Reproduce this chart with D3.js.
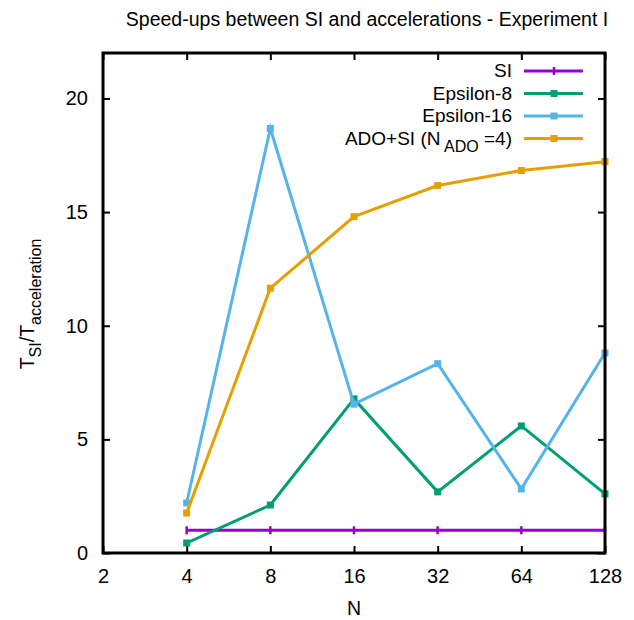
<!DOCTYPE html>
<html>
<head>
<meta charset="utf-8">
<script src="https://cdn.jsdelivr.net/npm/d3@7"></script>
<style>
  body { margin: 0; background: #fff; }
  text { font-family: "Liberation Sans", Arial, sans-serif; fill: #000; }
</style>
</head>
<body>
<svg id="chart" width="634" height="620"></svg>
<script>
// Data
const nValues = [4, 8, 16, 32, 64, 128];
const siValues = [1, 1, 1, 1, 1, 1];
const eps8Values = [0.44, 2.11, 6.78, 2.69, 5.59, 2.6];
const eps16Values = [2.2, 18.68, 6.55, 8.33, 2.82, 8.8];
const adoValues = [1.76, 11.65, 14.8, 16.17, 16.83, 17.22];
const xTicks = [2, 4, 8, 16, 32, 64, 128];
const yTicks = [0, 5, 10, 15, 20];

const seriesList = [
    { name: "SI", values: siValues, color: "#9400d3", marker: "plus" },
    { name: "Epsilon-8", values: eps8Values, color: "#009e73", marker: "square" },
    { name: "Epsilon-16", values: eps16Values, color: "#56b4e9", marker: "square" },
    { name: "ADO+SI", values: adoValues, color: "#e69f00", marker: "square" }
];

const svg = d3.select("#chart");
const margin = { left: 103, right: 29, top: 53, bottom: 67 };
const width = 634 - margin.left - margin.right;
const height = 620 - margin.top - margin.bottom;

const x = d3.scaleLog().base(2).domain([2, 128]).range([margin.left, margin.left + width]);
const y = d3.scaleLinear().domain([0, 22]).range([margin.top + height, margin.top]);

// Title
svg.append("text")
    .attr("x", 367).attr("y", 26)
    .attr("text-anchor", "middle")
    .style("font-size", "19.5px")
    .text("Speed-ups between SI and accelerations - Experiment I");

// Axes with inward ticks, mirrored
const fmt = d => d3.format("d")(d);
svg.append("g").attr("transform", `translate(0,${y(0)})`)
    .call(d3.axisBottom(x).tickValues(xTicks).tickFormat(fmt).tickSizeInner(-7).tickSizeOuter(0).tickPadding(16));
svg.append("g").attr("transform", `translate(0,${y(22)})`)
    .call(d3.axisTop(x).tickValues(xTicks).tickFormat("").tickSizeInner(-7).tickSizeOuter(0));
svg.append("g").attr("transform", `translate(${x(2)},0)`)
    .call(d3.axisLeft(y).tickValues(yTicks).tickSizeInner(-7).tickSizeOuter(0).tickPadding(15));
svg.append("g").attr("transform", `translate(${x(128)},0)`)
    .call(d3.axisRight(y).tickValues(yTicks).tickFormat("").tickSizeInner(-7).tickSizeOuter(0));

svg.selectAll(".domain").remove();
svg.selectAll(".tick line").attr("stroke", "#000").attr("stroke-width", 2);
svg.selectAll(".tick text").style("font-size", "20px").style("font-family", "Liberation Sans, Arial, sans-serif").attr("fill", "#000");

// Series
const line = d3.line().x((d, i) => x(nValues[i])).y(d => y(d));
const plot = svg.append("g");

function drawMarker(g, cx, cy, s) {
    if (s.marker === "plus") {
        g.append("line").attr("x1", cx).attr("x2", cx).attr("y1", cy - 4).attr("y2", cy + 4)
            .attr("stroke", s.color).attr("stroke-width", 2.5);
    } else {
        g.append("rect").attr("x", cx - 3.5).attr("y", cy - 3.5).attr("width", 7).attr("height", 7)
            .attr("fill", s.color);
    }
}

seriesList.forEach(s => {
    plot.append("path").datum(s.values)
        .attr("d", line)
        .attr("fill", "none")
        .attr("stroke", s.color)
        .attr("stroke-width", 3)
        .attr("stroke-linejoin", "miter");
    s.values.forEach((v, i) => drawMarker(plot, x(nValues[i]), y(v), s));
});

// Frame
svg.append("rect")
    .attr("x", x(2)).attr("y", y(22))
    .attr("width", x(128) - x(2)).attr("height", y(0) - y(22))
    .attr("fill", "none").attr("stroke", "#000").attr("stroke-width", 3);

// Legend
const legend = svg.append("g");
seriesList.forEach((s, i) => {
    const ly = 71 + i * 22.5;
    const t = legend.append("text")
        .attr("x", 512).attr("y", ly + 6)
        .attr("text-anchor", "end")
        .style("font-size", "19px");
    if (s.name === "ADO+SI") {
        t.append("tspan").text("ADO+SI (N");
        t.append("tspan").attr("dy", 7).style("font-size", "16px").text(" ADO");
        t.append("tspan").attr("dy", -7).text(" =4)");
    } else {
        t.text(s.name);
    }
    legend.append("line")
        .attr("x1", 524).attr("x2", 583).attr("y1", ly).attr("y2", ly)
        .attr("stroke", s.color).attr("stroke-width", 3);
    drawMarker(legend, 554, ly, s);
});

// Axis labels
svg.append("text")
    .attr("x", x(16)).attr("y", 615)
    .attr("text-anchor", "middle")
    .style("font-size", "19.5px")
    .text("N");

const yl = svg.append("text")
    .attr("transform", `translate(34,304) rotate(-90)`)
    .attr("text-anchor", "middle")
    .style("font-size", "19.5px");
yl.append("tspan").text("T");
yl.append("tspan").attr("dy", 7).style("font-size", "16px").text("SI");
yl.append("tspan").attr("dy", -7).text("/T");
yl.append("tspan").attr("dy", 7).style("font-size", "16px").text("acceleration");
</script>
</body>
</html>
